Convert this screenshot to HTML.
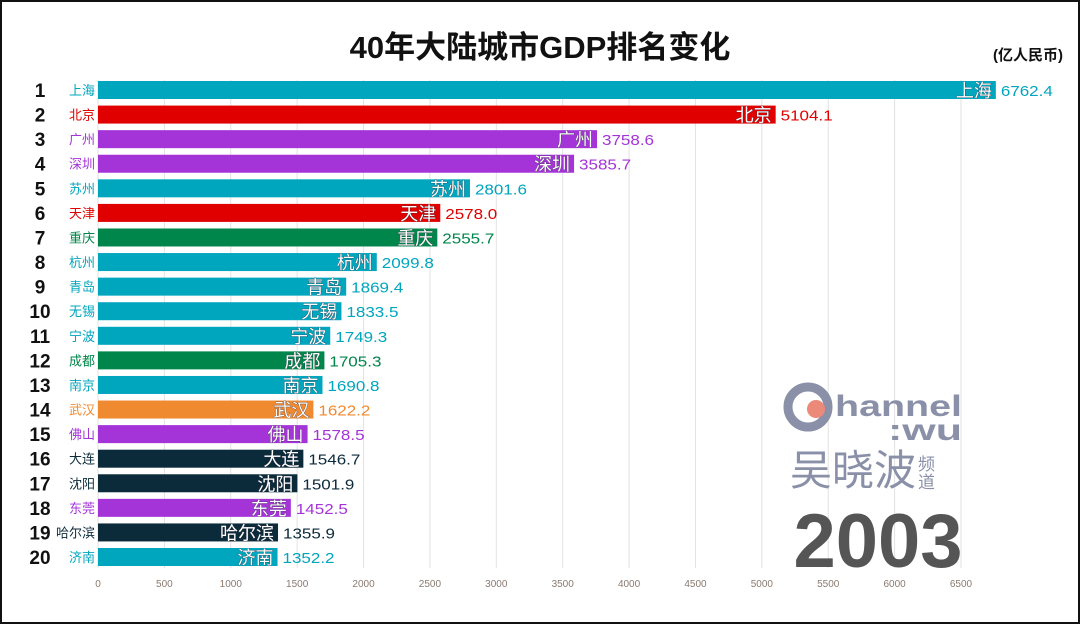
<!DOCTYPE html>
<html><head><meta charset="utf-8"><style>
body{margin:0;width:1080px;height:624px;overflow:hidden;background:#fff;font-family:"Liberation Sans","Noto Sans CJK SC",sans-serif}
#frame{position:absolute;left:0;top:0;width:1076px;height:620px;border:2px solid #111}
</style></head><body>
<div id="frame"></div>
<svg id="c" width="1080" height="624" style="position:absolute;left:0;top:0">
<text x="540" y="58" text-anchor="middle" font-size="31" font-weight="bold" fill="#111">40年大陆城市GDP排名变化</text>
<text x="1028" y="60" text-anchor="middle" font-size="15" font-weight="bold" fill="#111">(亿人民币)</text>
<g id="grid"></g><g id="bars"></g><g id="ticks"></g>
<g>
<circle cx="808" cy="407" r="20" fill="none" stroke="#8a90a8" stroke-width="9"/>
<circle cx="816" cy="409" r="9" fill="#ec8a7a"/>
<text x="835" y="416" font-size="30" font-weight="bold" fill="#8a90a8" textLength="127" lengthAdjust="spacingAndGlyphs">hannel</text>
<text x="888" y="440" font-size="30" font-weight="bold" fill="#8a90a8" textLength="74" lengthAdjust="spacingAndGlyphs">:wu</text>
<text x="790" y="485" font-size="42" fill="#8a90a8">吴晓波</text>
<text x="918" y="470" font-size="17" fill="#8a90a8">频</text>
<text x="918" y="488" font-size="17" fill="#8a90a8">道</text>
</g>
<text x="878" y="567" text-anchor="middle" font-size="76" font-weight="bold" fill="#555">2003</text>
</svg>
<script>
const cities=["上海","北京","广州","深圳","苏州","天津","重庆","杭州","青岛","无锡","宁波","成都","南京","武汉","佛山","大连","沈阳","东莞","哈尔滨","济南"];
const values=[6762.4,5104.1,3758.6,3585.7,2801.6,2578.0,2555.7,2099.8,1869.4,1833.5,1749.3,1705.3,1690.8,1622.2,1578.5,1546.7,1501.9,1452.5,1355.9,1352.2];
const colors=["#00a5be","#e00000","#a534d8","#a534d8","#00a5be","#e00000","#00854a","#00a5be","#00a5be","#00a5be","#00a5be","#00854a","#00a5be","#f08a30","#a534d8","#0b2a3a","#0b2a3a","#a534d8","#0b2a3a","#00a5be"];
const ticks=[0,500,1000,1500,2000,2500,3000,3500,4000,4500,5000,5500,6000,6500];
const NS="http://www.w3.org/2000/svg";
const x=v=>98+v*863/6500;
const y=i=>90+i*24.58;
function mk(t,a,p){const e=document.createElementNS(NS,t);for(const k in a)e.setAttribute(k,a[k]);p.appendChild(e);return e;}
const grid=document.getElementById('grid'),bars=document.getElementById('bars'),tk=document.getElementById('ticks');
ticks.forEach(t=>{
 const l=mk('line',{x1:x(t),x2:x(t),y1:80,y2:568,stroke:'#e2e2e2','stroke-width':1},grid);
 
 
 const s=mk('text',{x:x(t),y:587,'text-anchor':'middle','font-size':10,fill:'#8a7a70'},tk);
 s.textContent=t;
 
 
});
cities.forEach((c,i)=>{
 const cy=y(i),xe=x(values[i]),col=colors[i];
 const r=mk('text',{x:40,y:cy+7,'text-anchor':'middle','font-size':19,'font-weight':'bold',fill:'#111'},bars);
 r.textContent=i+1;
 
 
 const n=mk('text',{x:95,y:cy+5,'text-anchor':'end','font-size':13,fill:col},bars);
 n.textContent=c;
 
 
 const b=mk('rect',{x:98,y:cy-9,width:xe-98,height:18,fill:col},bars);
 
 
 const il=mk('text',{x:xe-4,y:cy+7,'text-anchor':'end','font-size':18,fill:'#fff',stroke:'#334','stroke-width':0.6,'paint-order':'stroke'},bars);
 il.textContent=c;
 
 
 const v=mk('text',{x:xe+5,y:cy+6,'font-size':15,fill:col,textLength:52,lengthAdjust:'spacingAndGlyphs'},bars);
 v.textContent=values[i].toFixed(1);
 
 
});
</script>
</body></html>
